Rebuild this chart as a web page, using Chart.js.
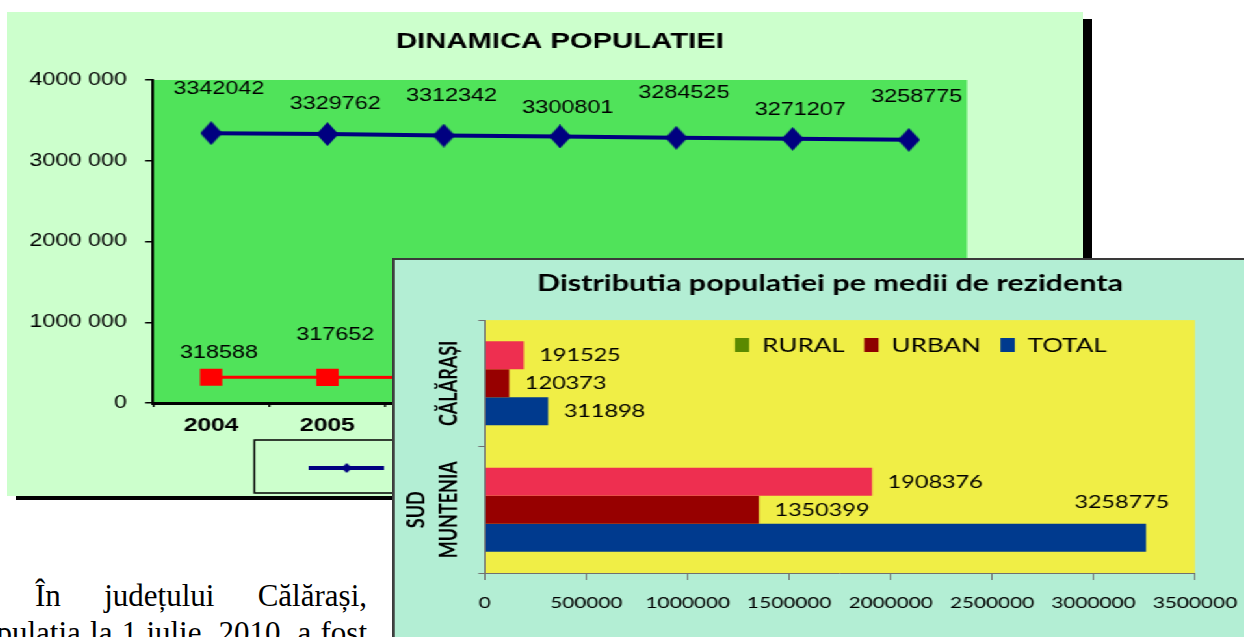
<!DOCTYPE html>
<html lang="ro">

<head>
    <meta charset="UTF-8">
    <title>Dinamica populatiei</title>
    <script src="https://cdn.jsdelivr.net/npm/chart.js"></script>
    <style>
        html, body { margin: 0; padding: 0; width: 1244px; height: 637px; overflow: hidden; background: #fff; }
        .umbra { position: absolute; left: 16px; top: 19px; width: 1076px; height: 481px; background: #000; }
        /* graficele sunt intinse pe orizontala, ca in imaginea originala */
        .grafic1 { position: absolute; left: 7px; top: 12px; width: 828px; height: 484px; background: #ccffcc;
                   transform: scaleX(1.3); transform-origin: 0 0; }
        .grafic2 { position: absolute; left: 392px; top: 258px; width: 670px; height: 379px; background: #b3eed4;
                   border-left: 2px solid #3a3a3a; border-top: 2px solid #3a3a3a;
                   transform: scaleX(1.3); transform-origin: 0 0; }
        .text { position: absolute; font-family: "Liberation Serif", serif; font-size: 31px; line-height: 37px; color: #000; }
    </style>
</head>

<body>
    <div class="umbra"></div>
    <div class="grafic1"><canvas id="dinamica" width="828" height="484"></canvas></div>

    <div class="text" style="left:35px; top:577px; width:332px; text-align:justify; text-align-last:justify;">În județului Călărași,</div>
    <div class="text" style="right:877px; top:614px; white-space:nowrap; word-spacing:1.5px;">populația la 1 iulie, 2010, a fost</div>

    <div class="grafic2"><canvas id="distributia" width="670" height="377"></canvas></div>

    <script>
        // ---- Dinamica populatiei (linii)
        const ani = ['2004', '2005', '2006', '2007', '2008', '2009', '2010'];
        const sudMuntenia = [3342042, 3329762, 3312342, 3300801, 3284525, 3271207, 3258775];
        const calarasi = [318588, 317652, 316400, 315200, 314100, 313000, 311898];
        const numeSerii = ['SUD MUNTENIA', 'CĂLĂRAȘI'];
        const ticksPopulatie = [0, 1000000, 2000000, 3000000, 4000000];

        // ---- Distributia pe medii de rezidenta (bare)
        const zone = [['CĂLĂRAȘI'], ['SUD', 'MUNTENIA']];
        const medii = ['RURAL', 'URBAN', 'TOTAL'];
        const rural = [191525, 1908376];
        const urban = [120373, 1350399];
        const total = [311898, 3258775];
        const ticksRezidenta = [0, 500000, 1000000, 1500000, 2000000, 2500000, 3000000, 3500000];

        const ALBASTRU = '#000080';
        const ROSU = '#ff0000';

        // marcaj romb, putin mai ingust (canvasul e intins pe orizontala)
        function romb(w, h, culoare) {
            const c = document.createElement('canvas');
            c.width = w; c.height = h;
            const x = c.getContext('2d');
            x.fillStyle = culoare;
            x.beginPath();
            x.moveTo(w / 2, 0); x.lineTo(w, h / 2); x.lineTo(w / 2, h); x.lineTo(0, h / 2);
            x.closePath();
            x.fill();
            return c;
        }

        // mostra pentru legenda: linie + marcaj
        function mostra(culoare, grosime, forma) {
            const c = document.createElement('canvas');
            c.width = 58; c.height = 14;
            const x = c.getContext('2d');
            x.fillStyle = culoare;
            x.fillRect(0, 7 - grosime / 2, 58, grosime);
            x.beginPath();
            if (forma === 'romb') {
                x.moveTo(29, 2); x.lineTo(33, 7); x.lineTo(29, 12); x.lineTo(25, 7);
            } else {
                x.rect(25, 3, 8, 8);
            }
            x.fill();
            return c;
        }

        const fundalPlot = {
            id: 'fundalPlot',
            beforeDraw(chart, args, o) {
                const { ctx, chartArea: a } = chart;
                ctx.save();
                ctx.fillStyle = o.culoare;
                ctx.fillRect(a.left, a.top, a.width, a.height);
                ctx.restore();
            }
        };

        const casetaLegenda = {
            id: 'casetaLegenda',
            afterDraw(chart, args, o) {
                const hb = chart.legend.legendHitBoxes;
                if (!hb || !hb.length) return;
                const ctx = chart.ctx;
                const prim = hb[0], ultim = hb[hb.length - 1];
                const cy = prim.top + prim.height / 2;
                ctx.save();
                ctx.strokeStyle = '#000';
                ctx.lineWidth = 1.5;
                ctx.strokeRect(prim.left - o.margine, cy - o.sus,
                    ultim.left + ultim.width - prim.left + 2 * o.margine, o.sus + o.jos);
                ctx.restore();
            }
        };

        const eticheteLinie = {
            id: 'eticheteLinie',
            afterDatasetsDraw(chart, args, o) {
                const ctx = chart.ctx;
                ctx.save();
                ctx.font = o.font;
                ctx.fillStyle = '#000';
                ctx.textAlign = 'center';
                ctx.textBaseline = 'middle';
                chart.data.datasets.forEach((ds, i) => {
                    const r = o.ridicare[i];
                    chart.getDatasetMeta(i).data.forEach((pt, j) => {
                        ctx.fillText(String(ds.data[j]), pt.x + o.dx, pt.y - r[j % r.length]);
                    });
                });
                ctx.restore();
            }
        };

        // muta legenda fata de zona de desen (y null = ramane pe loc)
        const mutaLegenda = {
            id: 'mutaLegenda',
            afterLayout(chart, args, o) {
                const lg = chart.legend;
                const w = lg.right - lg.left;
                const h = o.inaltime || (lg.bottom - lg.top);
                lg.left = chart.chartArea.left + o.x;
                lg.right = lg.left + w;
                if (o.y !== null) lg.top = chart.chartArea.top + o.y;
                lg.bottom = lg.top + h;
                lg.height = h;
            }
        };

        const eticheteBare = {
            id: 'eticheteBare',
            afterDatasetsDraw(chart, args, o) {
                const { ctx, chartArea } = chart;
                ctx.save();
                ctx.font = o.font;
                ctx.fillStyle = '#000';
                ctx.textBaseline = 'middle';
                chart.data.datasets.forEach((ds, i) => {
                    chart.getDatasetMeta(i).data.forEach((bar, j) => {
                        const t = String(ds.data[j]);
                        const w = ctx.measureText(t).width;
                        if (bar.x + o.spatiu + w <= chartArea.right) {
                            ctx.textAlign = 'left';
                            ctx.fillText(t, bar.x + o.spatiu, bar.y);
                        } else {
                            ctx.textAlign = 'right';
                            ctx.fillText(t, bar.x + o.peste, bar.y - bar.height / 2 - o.sus);
                        }
                    });
                });
                ctx.restore();
            }
        };

        const eticheteZone = {
            id: 'eticheteZone',
            afterDraw(chart, args, o) {
                const ctx = chart.ctx;
                const s = chart.scales.y;
                ctx.save();
                ctx.font = o.font;
                ctx.fillStyle = '#000';
                ctx.textAlign = 'center';
                ctx.textBaseline = 'middle';
                chart.data.labels.forEach((lab, i) => {
                    const y = s.getPixelForValue(i);
                    const linii = [].concat(lab);
                    linii.forEach((t, k) => {
                        const x = s.right - o.departare - (linii.length - 1 - k) * o.interlinie;
                        ctx.save();
                        ctx.translate(x, y);
                        ctx.rotate(-Math.PI / 2);
                        ctx.fillText(t, 0, 0);
                        ctx.restore();
                    });
                });
                ctx.restore();
            }
        };

        const formatMii = v => v === 0 ? '0' : String(v).replace(/(\d{3})$/, ' $1');

        new Chart(document.getElementById('dinamica'), {
            type: 'line',
            data: {
                labels: ani,
                datasets: [
                    {
                        label: numeSerii[0],
                        data: sudMuntenia,
                        borderColor: ALBASTRU,
                        backgroundColor: ALBASTRU,
                        borderWidth: 4,
                        pointStyle: romb(17, 24, ALBASTRU),
                        pointRadius: 12,
                        legendaMostra: mostra(ALBASTRU, 4, 'romb'),
                    },
                    {
                        label: numeSerii[1],
                        data: calarasi,
                        borderColor: ROSU,
                        backgroundColor: ROSU,
                        borderWidth: 3,
                        pointStyle: 'rect',
                        pointRadius: 10,
                        legendaMostra: mostra(ROSU, 3, 'patrat'),
                    },
                ],
            },
            options: {
                responsive: false,
                animation: false,
                layout: { padding: { left: 0, right: 89.5, top: 0, bottom: 10 } },
                scales: {
                    x: {
                        offset: true,
                        grid: { offset: true, drawOnChartArea: false, tickLength: 4, color: '#000', lineWidth: 1.5 },
                        border: { color: '#000', width: 3 },
                        ticks: { color: '#000', font: { family: 'Liberation Sans', size: 19, weight: 'bold' }, padding: 7 },
                        afterFit: s => { s.height = 41; },
                    },
                    y: {
                        min: 0,
                        max: 4000000,
                        afterBuildTicks: s => { s.ticks = ticksPopulatie.map(v => ({ value: v })); },
                        grid: { drawOnChartArea: false, tickLength: 6, color: '#000', lineWidth: 1.5 },
                        border: { color: '#000', width: 2 },
                        ticks: { color: '#000', font: { family: 'Liberation Sans', size: 18 }, padding: 14, callback: formatMii },
                        afterFit: s => { s.width = 112.3; },
                    },
                },
                plugins: {
                    title: {
                        display: true,
                        text: 'DINAMICA POPULATIEI',
                        fullSize: false,
                        color: '#000',
                        font: { family: 'Liberation Sans', size: 22.5, weight: 'bold' },
                        padding: { top: 16.5, bottom: 24.5 },
                    },
                    legend: {
                        position: 'bottom',
                        align: 'start',
                        labels: {
                            usePointStyle: true,
                            pointStyleWidth: 58,
                            padding: 16,
                            color: '#000',
                            font: { family: 'Liberation Sans', size: 16 },
                            generateLabels: chart => chart.data.datasets.map((ds, i) => ({
                                text: ds.label,
                                pointStyle: ds.legendaMostra,
                                fillStyle: ds.borderColor,
                                strokeStyle: ds.borderColor,
                                lineWidth: 0,
                                hidden: false,
                                datasetIndex: i,
                            })),
                        },
                    },
                    tooltip: { enabled: false },
                    fundalPlot: { culoare: '#50e35a' },
                    mutaLegenda: { x: 104, y: null },
                    casetaLegenda: { margine: 42, sus: 28, jos: 25 },
                    eticheteLinie: {
                        font: '18px "Liberation Sans"',
                        dx: 6,
                        ridicare: [[44, 30, 39, 28, 45, 29, 43], [24, 42]],
                    },
                },
            },
            plugins: [fundalPlot, mutaLegenda, casetaLegenda, eticheteLinie],
        });

        const culoriBare = ['#ee2f50', '#970000', '#003a8e'];
        const culoriLegenda = ['#5b8a00', '#8e0000', '#003a8e'];
        const valoriMedii = [rural, urban, total];

        new Chart(document.getElementById('distributia'), {
            type: 'bar',
            data: {
                labels: zone,
                datasets: medii.map((m, i) => ({
                    label: m,
                    data: valoriMedii[i],
                    backgroundColor: culoriBare[i],
                    categoryPercentage: 0.664,
                    barPercentage: 1,
                })),
            },
            options: {
                indexAxis: 'y',
                responsive: false,
                animation: false,
                layout: { padding: { left: 54.3, right: 54.3, top: 0, bottom: 0 } },
                scales: {
                    x: {
                        min: 0,
                        max: 3500000,
                        afterBuildTicks: s => { s.ticks = ticksRezidenta.map(v => ({ value: v })); },
                        grid: { drawOnChartArea: false, tickLength: 7, color: '#707070' },
                        border: { color: '#707070', width: 1 },
                        ticks: { color: '#000', font: { family: 'Lato', size: 16 }, padding: 13, maxRotation: 0, autoSkip: false,
                                 callback: v => String(v) },
                        afterFit: s => { s.height = 64; },
                    },
                    y: {
                        grid: { offset: true, drawOnChartArea: false, tickLength: 5, color: '#707070' },
                        border: { color: '#707070', width: 1 },
                        ticks: { display: false },
                        afterFit: s => { s.width = 15.2; },
                    },
                },
                plugins: {
                    title: {
                        display: true,
                        text: 'Distributia populatiei pe medii de rezidenta',
                        color: '#000',
                        font: { family: 'Lato', size: 23.5, weight: 'bold' },
                        padding: { top: 8.9, bottom: 22 },
                    },
                    legend: {
                        position: 'top',
                        align: 'start',
                        maxHeight: 1,
                        labels: {
                            boxWidth: 11,
                            boxHeight: 14,
                            padding: 15,
                            color: '#000',
                            font: { family: 'Lato', size: 20 },
                            generateLabels: chart => chart.data.datasets.map((ds, i) => ({
                                text: ds.label,
                                fillStyle: culoriLegenda[i],
                                strokeStyle: culoriLegenda[i],
                                lineWidth: 0,
                                hidden: false,
                                datasetIndex: i,
                            })),
                        },
                    },
                    tooltip: { enabled: false },
                    fundalPlot: { culoare: '#f0ee46' },
                    mutaLegenda: { x: 177.3, y: 0, inaltime: 46 },
                    eticheteBare: { font: '18px Lato', spatiu: 12, peste: 18, sus: 22 },
                    eticheteZone: { font: 'bold 18px Lato', departare: 27, interlinie: 25 },
                },
            },
            plugins: [fundalPlot, mutaLegenda, eticheteBare, eticheteZone],
        });
    </script>
</body>

</html>
